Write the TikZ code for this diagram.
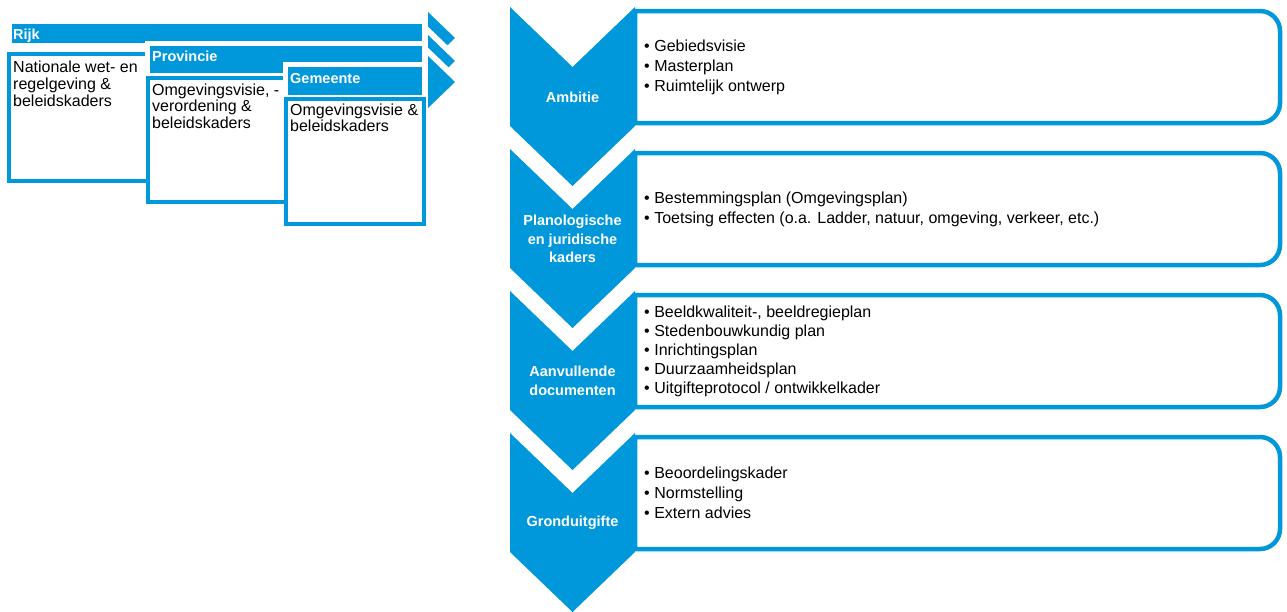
\documentclass[tikz,border=0pt]{standalone}
\usepackage{fontspec}
\setmainfont{Liberation Sans}
\usetikzlibrary{positioning}
\definecolor{gvblue}{RGB}{0,152,218}
\tikzset{
	>=latex,
}

\begin{document}
\begin{tikzpicture}[
		x=1pt,y=-1pt,
		band/.style={fill=gvblue,preaction={draw=white,line width=10pt}},
		arrowhead/.style={fill=gvblue,preaction={draw=white,line width=12pt}},
		frame/.style={draw=gvblue,fill=white,line width=4.5pt},
		chevron/.style={fill=gvblue},
		bandlabel/.style={text=white,font=\fontsize{14.5}{17}\selectfont\bfseries,anchor=base west,inner sep=0pt},
		boxtext/.style={font=\fontsize{16}{16.7}\selectfont,align=left,anchor=north west,inner sep=0pt},
		chevlabel/.style={text=white,font=\fontsize{14.5}{18.5}\selectfont\bfseries,align=center,inner sep=0pt},
		itemtext/.style={font=\fontsize{16}{20}\selectfont,align=left,anchor=west,inner sep=0pt},
	]
	\useasboundingbox (0,0) rectangle (1287,611);
	\def\b{\textbullet\hspace{4.5pt}}
	% left: rijk, provincie, gemeente
	\path[band] (12,24) rectangle (423,43);
	\path[arrowhead] (428,12) -- (455,38) -- (428,64) -- cycle;
	\draw[frame] (9,54) rectangle (148,181);
	\node(rijk)[bandlabel] at (13,39) {Rijk};
	\node(rijktxt)[boxtext] at (13,61) {Nationale wet- en\\regelgeving \&\\beleidskaders};

	\path[band] (150,46) rectangle (423,73);
	\path[arrowhead] (428,35) -- (455,61) -- (428,87) -- cycle;
	\draw[frame] (148,78) rectangle (286,202);
	\node(prov)[bandlabel] at (152,61) {Provincie};
	\node(provtxt)[boxtext] at (152,83.5) {Omgevingsvisie, -\\verordening \&\\beleidskaders};

	\path[band] (288,67) rectangle (423,95);
	\path[arrowhead] (428,56) -- (455,82) -- (428,108) -- cycle;
	\draw[frame] (286,99) rectangle (424,224);
	\node(gem)[bandlabel] at (290,83) {Gemeente};
	\node(gemtxt)[boxtext] at (290,103.5) {Omgevingsvisie \&\\beleidskaders};

	% right: process steps
	\foreach \t in {7,149,291,433}{
		\draw[frame] (635,\t+4) -- (1260,\t+4) arc[start angle=-90,end angle=0,radius=20]
			-- (1280,\t+96) arc[start angle=0,end angle=90,radius=20] -- (635,\t+116) -- cycle;
		\path[chevron] (510,\t) -- (572.5,\t+60) -- (635,\t) -- (635,\t+119)
			-- (572.5,\t+179) -- (510,\t+119) -- cycle;
	}
	\node(amb)[chevlabel] at (572.5,97) {Ambitie};
	\node(plan)[chevlabel] at (572.5,239) {Planologische\\en juridische\\kaders};
	\node(aanv)[chevlabel] at (572.5,381) {Aanvullende\\documenten};
	\node(grond)[chevlabel] at (572.5,523) {Gronduitgifte};

	\node(ambitems)[itemtext] at (644,67) {\b Gebiedsvisie\\\b Masterplan\\\b Ruimtelijk ontwerp};
	\node(planitems)[itemtext] at (644,209) {\b Bestemmingsplan (Omgevingsplan)\\
		\b Toetsing effecten (o.a. Ladder, natuur, omgeving, verkeer, etc.)};
	\node(aanvitems)[itemtext,font=\fontsize{16}{19}\selectfont] at (644,351) {\b Beeldkwaliteit-, beeldregieplan\\
		\b Stedenbouwkundig plan\\\b Inrichtingsplan\\\b Duurzaamheidsplan\\
		\b Uitgifteprotocol / ontwikkelkader};
	\node(gronditems)[itemtext] at (644,493) {\b Beoordelingskader\\\b Normstelling\\\b Extern advies};
\end{tikzpicture}
\end{document}
